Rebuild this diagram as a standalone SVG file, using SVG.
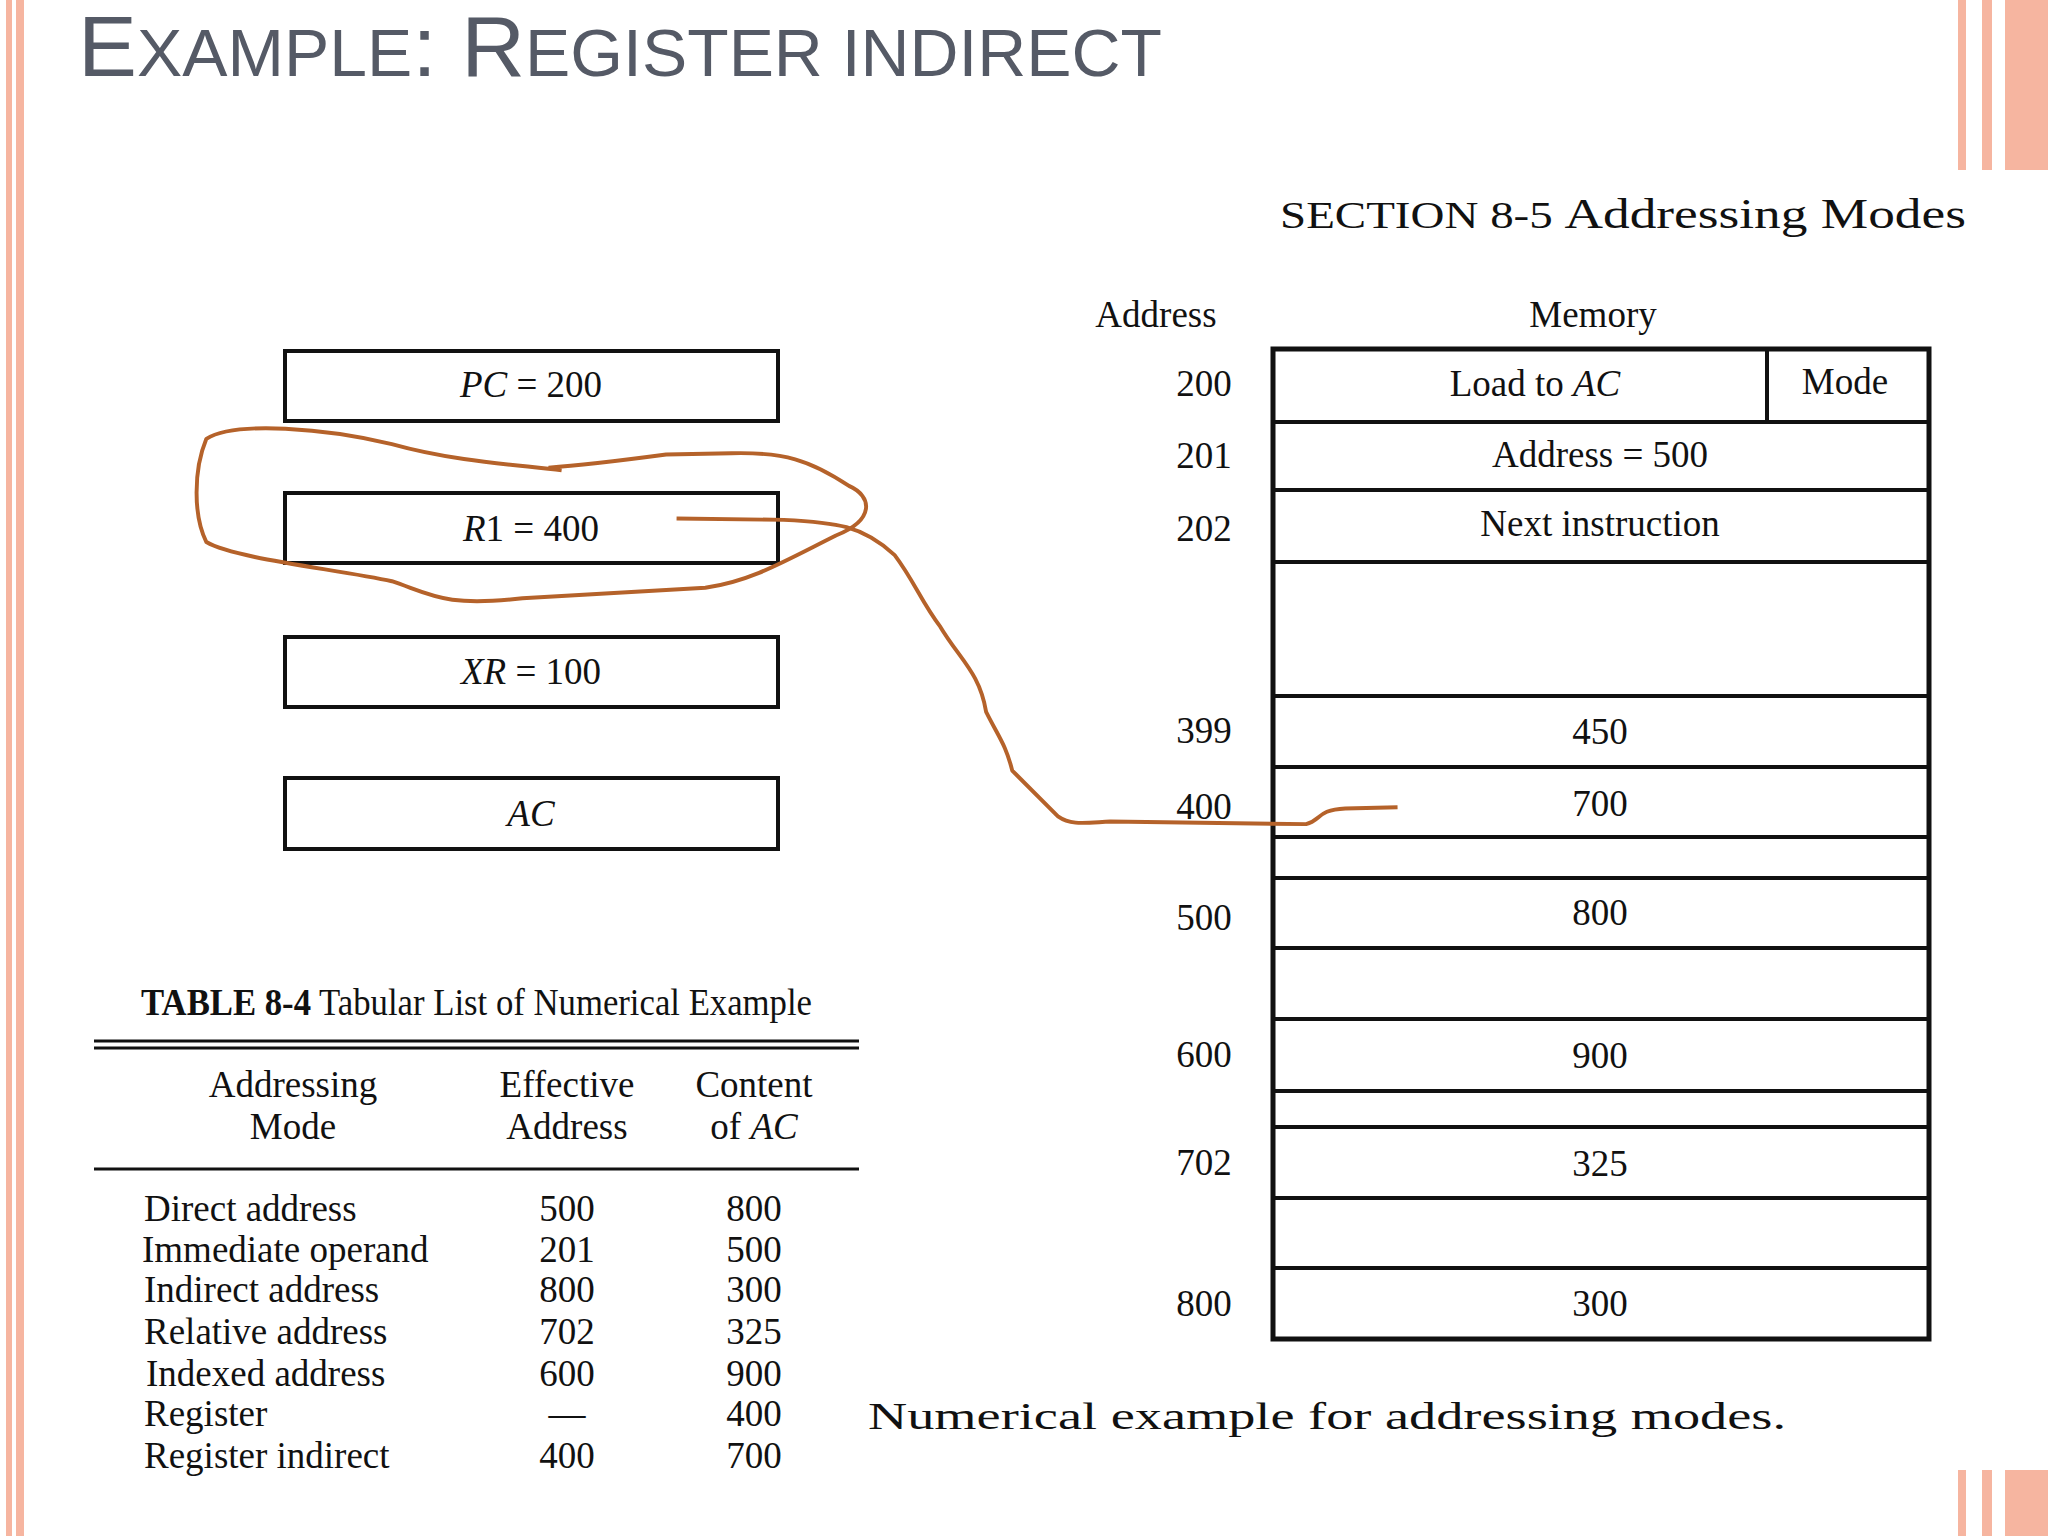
<svg xmlns="http://www.w3.org/2000/svg" width="2048" height="1536" viewBox="0 0 2048 1536">
<style>
.t{font-family:"Liberation Serif","DejaVu Serif",serif;font-size:37px;fill:#111}
.c{text-anchor:middle}
.box{fill:#fff;stroke:#111;stroke-width:4}
.ln{stroke:#111;stroke-width:4}
</style>
<rect width="2048" height="1536" fill="#fff"/>
<g id="borders" fill="#f6b5a0">
<rect x="6" y="0" width="6" height="1536"/><rect x="16" y="0" width="8" height="1536"/>
<rect x="1958" y="0" width="8" height="170"/><rect x="1982" y="0" width="10" height="170"/><rect x="2005" y="0" width="43" height="170"/>
<rect x="1958" y="1470" width="8" height="66"/><rect x="1982" y="1470" width="10" height="66"/><rect x="2005" y="1470" width="43" height="66"/>
</g>
<text x="78" y="76" font-family="Liberation Sans,Arial,sans-serif" font-size="86" fill="#555a66" textLength="1084" lengthAdjust="spacingAndGlyphs">E<tspan font-size="66">XAMPLE</tspan>: R<tspan font-size="66">EGISTER INDIRECT</tspan></text>
<text class="t" x="1280" y="228" font-size="34" textLength="686" lengthAdjust="spacingAndGlyphs">SECTION 8-5  <tspan font-size="42">Addressing Modes</tspan></text>
<g id="registers">
<g id="pc"><rect class="box" x="285" y="351" width="493" height="70"/><text class="t c" x="531" y="397"><tspan font-style="italic">PC</tspan> = 200</text></g>
<g id="r1"><rect class="box" x="285" y="493" width="493" height="70"/><text class="t c" x="531" y="541"><tspan font-style="italic">R</tspan>1 = 400</text></g>
<g id="xr"><rect class="box" x="285" y="637" width="493" height="70"/><text class="t c" x="531" y="684"><tspan font-style="italic">XR</tspan> = 100</text></g>
<g id="ac"><rect class="box" x="285" y="778" width="493" height="71"/><text class="t c" x="531" y="826" font-style="italic">AC</text></g>
</g>
<g id="memory">
<text class="t c" x="1156" y="327">Address</text><text class="t c" x="1593" y="327">Memory</text>
<rect x="1273" y="349" width="656" height="990" fill="none" stroke="#111" stroke-width="5"/>
<g class="ln">
<line x1="1273" y1="422" x2="1929" y2="422"/><line x1="1273" y1="490" x2="1929" y2="490"/><line x1="1273" y1="562" x2="1929" y2="562"/>
<line x1="1273" y1="696" x2="1929" y2="696"/><line x1="1273" y1="767" x2="1929" y2="767"/><line x1="1273" y1="837" x2="1929" y2="837"/>
<line x1="1273" y1="878" x2="1929" y2="878"/><line x1="1273" y1="948" x2="1929" y2="948"/><line x1="1273" y1="1019" x2="1929" y2="1019"/>
<line x1="1273" y1="1091" x2="1929" y2="1091"/><line x1="1273" y1="1127" x2="1929" y2="1127"/><line x1="1273" y1="1198" x2="1929" y2="1198"/>
<line x1="1273" y1="1268" x2="1929" y2="1268"/><line x1="1767" y1="349" x2="1767" y2="422"/>
</g>
<g class="t c">
<text x="1204" y="396">200</text><text x="1204" y="468">201</text><text x="1204" y="541">202</text><text x="1204" y="743">399</text>
<text x="1204" y="819">400</text><text x="1204" y="930">500</text><text x="1204" y="1067">600</text><text x="1204" y="1175">702</text><text x="1204" y="1316">800</text>
<text x="1535" y="396">Load to <tspan font-style="italic">AC</tspan></text><text x="1845" y="394">Mode</text>
<text x="1600" y="467">Address = 500</text><text x="1600" y="536">Next instruction</text>
<text x="1600" y="744">450</text><text x="1600" y="816">700</text><text x="1600" y="925">800</text><text x="1600" y="1068">900</text><text x="1600" y="1176">325</text><text x="1600" y="1316">300</text>
</g>
</g>
<g id="table">
<text class="t" x="141" y="1015" font-size="33" textLength="671" lengthAdjust="spacingAndGlyphs"><tspan font-weight="bold">TABLE 8-4</tspan> Tabular List of Numerical Example</text>
<line x1="94" y1="1041" x2="859" y2="1041" stroke="#111" stroke-width="3"/><line x1="94" y1="1048" x2="859" y2="1048" stroke="#111" stroke-width="3"/>
<line x1="94" y1="1169" x2="859" y2="1169" stroke="#111" stroke-width="3"/>
<g class="t c" font-size="34">
<text x="293" y="1097">Addressing</text><text x="293" y="1139">Mode</text>
<text x="567" y="1097">Effective</text><text x="567" y="1139">Address</text>
<text x="754" y="1097">Content</text><text x="754" y="1139">of <tspan font-style="italic">AC</tspan></text>
<text x="567" y="1221">500</text><text x="567" y="1262">201</text><text x="567" y="1302">800</text><text x="567" y="1344">702</text><text x="567" y="1386">600</text><text x="567" y="1426">—</text><text x="567" y="1468">400</text>
<text x="754" y="1221">800</text><text x="754" y="1262">500</text><text x="754" y="1302">300</text><text x="754" y="1344">325</text><text x="754" y="1386">900</text><text x="754" y="1426">400</text><text x="754" y="1468">700</text>
</g>
<g class="t" font-size="34">
<text x="144" y="1221">Direct address</text><text x="142" y="1262">Immediate operand</text><text x="144" y="1302">Indirect address</text>
<text x="144" y="1344">Relative address</text><text x="146" y="1386">Indexed address</text><text x="144" y="1426">Register</text><text x="144" y="1468">Register indirect</text>
</g>
</g>
<text class="t" x="868" y="1429" font-size="44" textLength="918" lengthAdjust="spacingAndGlyphs">Numerical  example  for addressing  modes.</text>
<g id="connectors">
<path transform="scale(1.30612)" fill="none" stroke="#b5622a" stroke-width="3" stroke-linejoin="round" d="M430,360 C400,356 350,354 300,340 C250,328 180,322 158,336 C148,360 148,395 158,415 C180,428 260,436 300,445 C330,455 340,465 400,458 L540,450 C575,445 600,430 640,410 C670,398 668,380 650,372 C620,352 600,346 560,347 L510,348 C480,352 450,356 420,358 M518,397 L600,398 C640,400 660,402 685,425 C700,445 705,460 720,480 C735,505 750,515 755,545 C765,565 770,570 775,590 C785,600 795,610 810,625 C820,632 830,630 850,629 L1000,631 C1012,628 1008,620 1030,619 L1070,618"/>
</g>
</svg>
